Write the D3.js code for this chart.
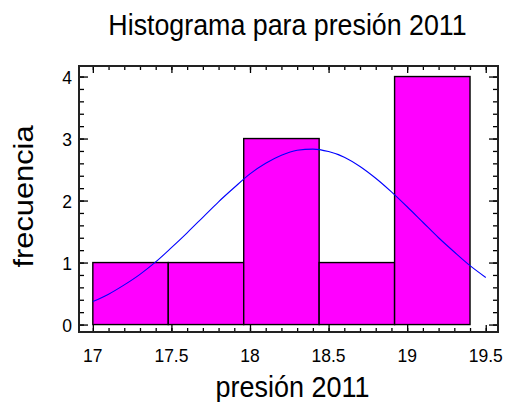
<!DOCTYPE html>
<html lang="es">
<head>
    <meta charset="UTF-8">
    <script src="https://d3js.org/d3.v7.min.js"></script>
    <title>Histograma para presión 2011</title>
    <style>
        body {
            margin: 0;
            background: white;
        }
        text {
            font-family: "Liberation Sans", Arial, sans-serif;
            fill: black;
        }
    </style>
</head>
<body>
<div id="chart"></div>
<script>
    // histogram bins (lower edges) and counts
    const binEdges = [17.0, 17.48, 17.96, 18.44, 18.92, 19.40];
    const counts = [1, 1, 3, 1, 4];

    // fitted normal curve
    const curveX = [17.0, 17.1, 17.2, 17.3, 17.4, 17.5, 17.6, 17.7, 17.8, 17.9,
                    18.0, 18.1, 18.2, 18.3, 18.4, 18.5, 18.6, 18.7, 18.8, 18.9,
                    19.0, 19.1, 19.2, 19.3, 19.4, 19.5];
    const curveY = [0.37, 0.49, 0.64, 0.81, 1.01, 1.24, 1.48, 1.73, 1.98, 2.21,
                    2.43, 2.60, 2.73, 2.81, 2.83, 2.79, 2.70, 2.55, 2.36, 2.14,
                    1.90, 1.65, 1.40, 1.17, 0.95, 0.76];

    const xTicks = [17, 17.5, 18, 18.5, 19, 19.5];
    const yTicks = [0, 1, 2, 3, 4];

    const W = 507, H = 402;
    const plotLeft = 79, plotRight = 498, plotTop = 66, plotBottom = 332;
    const stretch = 1.1; // text in the reference is a bit taller than wide

    const svg = d3.select("#chart")
        .append("svg")
        .attr("width", W)
        .attr("height", H);

    const x = d3.scaleLinear()
        .domain([16.912, 19.578])
        .range([plotLeft, plotRight]);

    const y = d3.scaleLinear()
        .domain([-0.12, 4.17])
        .range([plotBottom, plotTop]);

    // bars
    const bins = counts.map((c, i) => ({x0: binEdges[i], x1: binEdges[i + 1], n: c}));
    svg.selectAll(".bar")
        .data(bins)
        .enter()
        .append("rect")
        .attr("class", "bar")
        .attr("x", d => x(d.x0))
        .attr("width", d => x(d.x1) - x(d.x0))
        .attr("y", d => y(d.n))
        .attr("height", d => y(0) - y(d.n))
        .attr("fill", "#ff00ff")
        .attr("stroke", "black")
        .attr("stroke-width", 1.4);

    // normal curve
    const line = d3.line()
        .x(d => x(d[0]))
        .y(d => y(d[1]))
        .curve(d3.curveMonotoneX);
    svg.append("path")
        .datum(curveX.map((v, i) => [v, curveY[i]]))
        .attr("d", line)
        .attr("fill", "none")
        .attr("stroke", "#0000ff")
        .attr("stroke-width", 1.1);

    // axes on all four sides, ticks pointing inward
    const xMinor = d3.range(17, 19.55, 0.1).map(v => +v.toFixed(1));
    const yMinor = d3.range(0, 4.1, 0.2).map(v => +v.toFixed(1));

    svg.append("g")
        .attr("transform", `translate(0,${plotBottom})`)
        .call(d3.axisBottom(x).tickValues(xMinor).tickSize(-4).tickFormat(""));
    svg.append("g")
        .attr("transform", `translate(0,${plotBottom})`)
        .call(d3.axisBottom(x).tickValues(xTicks).tickSize(-7).tickFormat(""));
    svg.append("g")
        .attr("transform", `translate(0,${plotTop})`)
        .call(d3.axisTop(x).tickValues(xMinor).tickSize(-4).tickFormat(""));
    svg.append("g")
        .attr("transform", `translate(0,${plotTop})`)
        .call(d3.axisTop(x).tickValues(xTicks).tickSize(-7).tickFormat(""));
    svg.append("g")
        .attr("transform", `translate(${plotLeft},0)`)
        .call(d3.axisLeft(y).tickValues(yMinor).tickSize(-5).tickFormat(""));
    svg.append("g")
        .attr("transform", `translate(${plotLeft},0)`)
        .call(d3.axisLeft(y).tickValues(yTicks).tickSize(-9).tickFormat(""));
    svg.append("g")
        .attr("transform", `translate(${plotRight},0)`)
        .call(d3.axisRight(y).tickValues(yMinor).tickSize(-5).tickFormat(""));
    svg.append("g")
        .attr("transform", `translate(${plotRight},0)`)
        .call(d3.axisRight(y).tickValues(yTicks).tickSize(-9).tickFormat(""));

    svg.selectAll(".domain").remove();
    svg.selectAll(".tick line")
        .attr("stroke", "black")
        .attr("stroke-width", 1.3);

    // frame
    svg.append("rect")
        .attr("x", plotLeft)
        .attr("y", plotTop)
        .attr("width", plotRight - plotLeft)
        .attr("height", plotBottom - plotTop)
        .attr("fill", "none")
        .attr("stroke", "#222")
        .attr("stroke-width", 2);

    // tick labels
    svg.selectAll(".xlab")
        .data(xTicks)
        .enter()
        .append("text")
        .attr("class", "xlab")
        .attr("transform", d => `translate(${x(d)},362) scale(1,${stretch})`)
        .attr("text-anchor", "middle")
        .style("font-size", "17.5px")
        .text(d => d);

    svg.selectAll(".ylab")
        .data(yTicks)
        .enter()
        .append("text")
        .attr("class", "ylab")
        .attr("transform", d => `translate(72,${y(d) + 7}) scale(1,${stretch})`)
        .attr("text-anchor", "end")
        .style("font-size", "17.5px")
        .text(d => d);

    // titles
    svg.append("text")
        .attr("transform", `translate(287.5,35) scale(1,${stretch})`)
        .attr("text-anchor", "middle")
        .style("font-size", "26.8px")
        .text("Histograma para presión 2011");

    svg.append("text")
        .attr("transform", `translate(292.5,397) scale(1,${stretch})`)
        .attr("text-anchor", "middle")
        .style("font-size", "27px")
        .text("presión 2011");

    svg.append("text")
        .attr("transform", `translate(33,196.5) scale(1,${stretch}) rotate(-90)`)
        .attr("text-anchor", "middle")
        .style("font-size", "28px")
        .text("frecuencia");
</script>
</body>
</html>
